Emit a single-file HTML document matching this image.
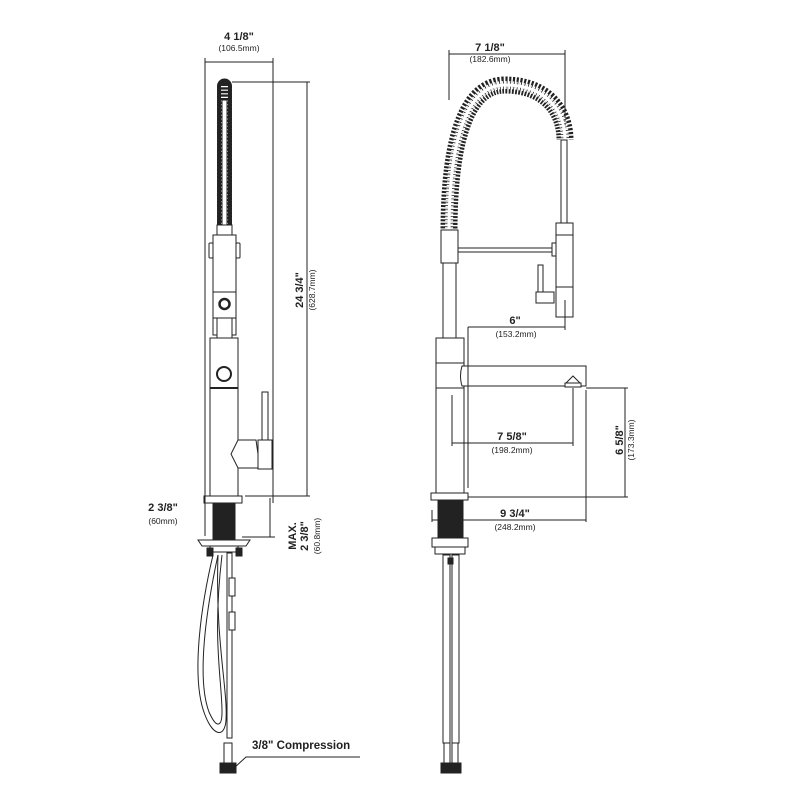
<!DOCTYPE html>
<html><head><meta charset="utf-8"><style>
html,body{margin:0;padding:0;background:#fff}
svg{display:block}
text{font-family:"Liberation Sans",sans-serif;fill:#222}
.t{font-size:11px;font-weight:bold}
.s{font-size:8.5px}
</style></head><body>
<svg width="800" height="800" viewBox="0 0 800 800" xmlns="http://www.w3.org/2000/svg">
<g stroke="#222" stroke-width="1" fill="none">
<!-- LEFT FAUCET -->
<line x1="205" y1="62" x2="273" y2="62"/>
<line x1="205" y1="58" x2="205" y2="517"/>
<line x1="273" y1="58" x2="273" y2="503"/>
<line x1="232" y1="82" x2="310" y2="82"/>
<line x1="245" y1="496" x2="310" y2="496"/>
<line x1="307" y1="82" x2="307" y2="496"/>
<!-- coil -->
<path d="M224.5 86 V225" stroke="#222" stroke-width="15" stroke-dasharray="2 1.6" stroke-linecap="round"/>
<path d="M224.5 86 V225" stroke="#fff" stroke-width="7" stroke-dasharray="1.2 2.4"/>
<rect x="222" y="100" width="5" height="125" fill="#fff"/>
<rect x="217" y="225" width="15" height="10" fill="#fff"/>
<rect x="213" y="235" width="23" height="100" fill="#fff"/>
<rect x="209" y="243" width="4" height="15" rx="1"/>
<rect x="236" y="243" width="4" height="15" rx="1"/>
<line x1="213" y1="292" x2="236" y2="292"/>
<line x1="213" y1="318" x2="236" y2="318"/>
<circle cx="224.5" cy="304" r="5" stroke-width="2.5"/>
<rect x="217" y="318" width="15" height="20" fill="#fff"/>
<rect x="210" y="338" width="28" height="158" fill="#fff"/>
<line x1="210" y1="388" x2="238" y2="388" stroke-width="2"/>
<circle cx="224" cy="374" r="7" stroke-width="2"/>
<rect x="262" y="392" width="6" height="49"/>
<path d="M238 440 L256 440 L260 468 L238 468 L231 454 Z" fill="#fff"/>
<rect x="258" y="440" width="14" height="29" fill="#fff"/>
<!-- base -->
<rect x="204" y="496" width="38" height="7" fill="#fff"/>
<rect x="213" y="503" width="22" height="36" fill="#222"/>
<path d="M198 540 L250 540 L246 546 L202 546 Z" fill="#fff"/>
<rect x="210" y="546" width="28" height="6" fill="#fff"/>
<rect x="207" y="548" width="6" height="8" fill="#222"/>
<rect x="236" y="548" width="6" height="8" fill="#222"/>
<line x1="205" y1="496" x2="205" y2="536"/>
<line x1="270" y1="498" x2="270" y2="537"/>
<line x1="242" y1="537" x2="275" y2="537"/>
<!-- hoses -->
<path d="M213 555 C200 610 191 680 205 715 C214 738 225 737 226 720 C228 690 215 640 218 555"/>
<path d="M218 555 C205 615 197 680 209 712 C217 730 222 726 222 712 C222 680 212 640 222 555"/>
<rect x="227" y="553" width="5" height="185" fill="#fff"/>
<rect x="229" y="578" width="6" height="18" fill="#fff"/>
<rect x="229" y="612" width="6" height="18" fill="#fff"/>
<rect x="224" y="743" width="8" height="20" fill="#fff"/>
<rect x="220" y="763" width="16" height="10" fill="#222"/>
<polyline points="234,768 246,757 360,757"/>

<!-- RIGHT FAUCET -->
<line x1="449" y1="54" x2="565" y2="54"/>
<line x1="449" y1="50" x2="449" y2="100"/>
<line x1="565" y1="50" x2="565" y2="140"/>
<path d="M449 232 C449 130 470 85 505 85 C545 85 565 110 565 140" stroke-width="17" stroke-dasharray="2 1.5"/>
<path d="M449 232 C449 130 470 85 505 85 C545 85 565 110 565 140" stroke="#fff" stroke-width="8" stroke-dasharray="1.2 2.3"/>
<path d="M449 232 C449 130 470 85 505 85 C545 85 565 110 565 140" stroke="#fff" stroke-width="3"/>
<rect x="561" y="140" width="6" height="85" fill="#fff"/>
<rect x="441" y="230" width="17" height="33" fill="#fff"/>
<rect x="443" y="263" width="13" height="76" fill="#fff"/>
<rect x="458" y="248" width="95" height="4" fill="#fff"/>
<rect x="552" y="243" width="8" height="13" fill="#fff"/>
<rect x="556" y="223" width="17" height="94" fill="#fff"/>
<line x1="556" y1="235" x2="573" y2="235"/>
<line x1="556" y1="287" x2="573" y2="287"/>
<rect x="538" y="265" width="5" height="28"/>
<rect x="536" y="292" width="18" height="11" fill="#fff"/>
<rect x="436" y="338" width="28" height="159" fill="#fff"/>
<line x1="436" y1="363" x2="464" y2="363"/>
<line x1="436" y1="388" x2="464" y2="388"/>
<path d="M462 366 L586 366 L586 386 L462 386 Q459 376 462 366 Z" fill="#fff"/>
<path d="M566 383 L573 376 L580 383 Z" fill="#fff"/>
<rect x="565" y="383" width="16" height="4" fill="#fff"/>
<line x1="468" y1="327" x2="565" y2="327"/>
<line x1="468" y1="327" x2="468" y2="488"/>
<line x1="565" y1="300" x2="565" y2="330"/>
<line x1="452" y1="443" x2="573" y2="443"/>
<line x1="452" y1="395" x2="452" y2="446"/>
<line x1="573" y1="388" x2="573" y2="446"/>
<line x1="586" y1="388" x2="628" y2="388"/>
<line x1="468" y1="497" x2="628" y2="497"/>
<line x1="625" y1="388" x2="625" y2="497"/>
<line x1="432" y1="520" x2="586" y2="520"/>
<line x1="586" y1="390" x2="586" y2="522"/>
<line x1="432" y1="510" x2="432" y2="522"/>
<rect x="431" y="493" width="37" height="7" fill="#fff"/>
<rect x="438" y="500" width="25" height="38" fill="#222"/>
<rect x="432" y="538" width="36" height="9" fill="#fff"/>
<rect x="435" y="547" width="30" height="7" fill="#fff"/>
<rect x="443" y="555" width="7" height="188" fill="#fff"/>
<rect x="452" y="555" width="7" height="188" fill="#fff"/>
<rect x="448" y="558" width="5" height="6" fill="#222"/>
<rect x="444" y="743" width="6" height="20" fill="#fff"/>
<rect x="452" y="743" width="6" height="20" fill="#fff"/>
<rect x="441" y="763" width="20" height="10" fill="#222"/>
</g>
<text class="t" x="239" y="40" text-anchor="middle">4 1/8"</text>
<text class="s" x="239" y="51" text-anchor="middle">(106.5mm)</text>
<text class="t" x="0" y="0" text-anchor="middle" transform="translate(303,290) rotate(-90)">24 3/4"</text>
<text class="s" x="0" y="0" text-anchor="middle" transform="translate(315,290) rotate(-90)">(628.7mm)</text>
<text class="t" x="163" y="511" text-anchor="middle">2 3/8"</text>
<text class="s" x="163" y="524" text-anchor="middle">(60mm)</text>
<text class="t" x="0" y="0" text-anchor="middle" transform="translate(296,536) rotate(-90)">MAX.</text>
<text class="t" x="0" y="0" text-anchor="middle" transform="translate(308,536) rotate(-90)">2 3/8"</text>
<text class="s" x="0" y="0" text-anchor="middle" transform="translate(320,536) rotate(-90)">(60.8mm)</text>
<text class="t" x="252" y="749" style="font-size:11.5px">3/8" Compression</text>
<text class="t" x="490" y="51" text-anchor="middle">7 1/8"</text>
<text class="s" x="490" y="62" text-anchor="middle">(182.6mm)</text>
<text class="t" x="515" y="324" text-anchor="middle">6"</text>
<text class="s" x="516" y="337" text-anchor="middle">(153.2mm)</text>
<text class="t" x="512" y="440" text-anchor="middle">7 5/8"</text>
<text class="s" x="512" y="453" text-anchor="middle">(198.2mm)</text>
<text class="t" x="0" y="0" text-anchor="middle" transform="translate(623,440) rotate(-90)">6 5/8"</text>
<text class="s" x="0" y="0" text-anchor="middle" transform="translate(634,440) rotate(-90)">(173.3mm)</text>
<text class="t" x="515" y="517" text-anchor="middle">9 3/4"</text>
<text class="s" x="515" y="530" text-anchor="middle">(248.2mm)</text>
</svg>
</body></html>
